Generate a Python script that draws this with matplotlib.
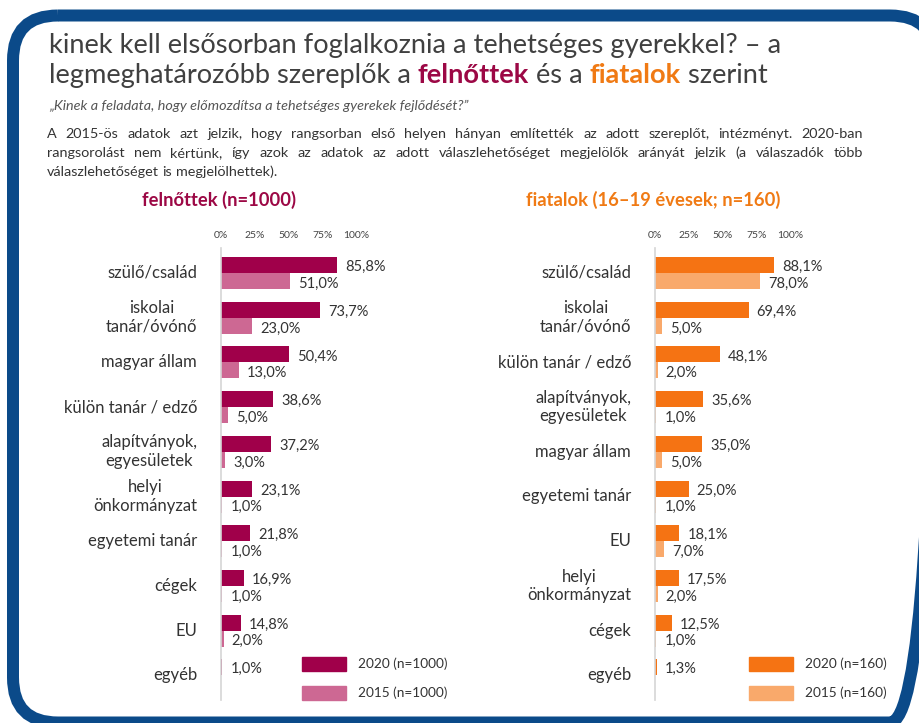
import matplotlib
matplotlib.use("Agg")
import matplotlib.pyplot as plt
from matplotlib.patches import FancyBboxPatch, Rectangle

W, H = 919, 723
DPI = 100

# felnőttek (n=1000)
adult_cats = ["szülő/család", "iskolai\ntanár/óvónő", "magyar állam", "külön tanár / edző",
              "alapítványok,\negyesületek", "helyi\nönkormányzat", "egyetemi tanár", "cégek",
              "EU", "egyéb"]
adult_2020 = [85.8, 73.7, 50.4, 38.6, 37.2, 23.1, 21.8, 16.9, 14.8, 1.0]
adult_2015 = [51.0, 23.0, 13.0, 5.0, 3.0, 1.0, 1.0, 1.0, 2.0, None]

# fiatalok (16-19 évesek; n=160)
youth_cats = ["szülő/család", "iskolai\ntanár/óvónő", "külön tanár / edző",
              "alapítványok,\negyesületek", "magyar állam", "egyetemi tanár", "EU",
              "helyi\nönkormányzat", "cégek", "egyéb"]
youth_2020 = [88.1, 69.4, 48.1, 35.6, 35.0, 25.0, 18.1, 17.5, 12.5, 1.3]
youth_2015 = [78.0, 5.0, 2.0, 1.0, 5.0, 1.0, 7.0, 2.0, 1.0, None]

ticks = [0, 25, 50, 75, 100]
tick_labels = ["0%", "25%", "50%", "75%", "100%"]

BLUE = "#0b4a89"
CRIMSON = "#a0004a"
PINK = "#cd6893"
ORANGE = "#f57313"
LORANGE = "#f9a96b"
TXT = "#333333"

plt.rcParams['font.family'] = ['Lato', 'DejaVu Sans']

fig = plt.figure(figsize=(W / DPI, H / DPI), dpi=DPI)
bg = fig.add_axes([0, 0, 1, 1])
bg.set_xlim(0, W)
bg.set_ylim(H, 0)
bg.axis('off')
renderer = fig.canvas.get_renderer()


def pt(p):
    return p * 0.72


def tw(s, size, **kw):
    t = bg.text(0, 0, s + "|", fontsize=size, **kw)
    a = t.get_window_extent(renderer).width
    t.remove()
    t = bg.text(0, 0, "|", fontsize=size, **kw)
    b = t.get_window_extent(renderer).width
    t.remove()
    return a - b


def text_run(x, y, pieces, size):
    for s, color, weight in pieces:
        bg.text(x, y, s, fontsize=size, color=color, fontweight=weight, va='baseline')
        x += tw(s, size, fontweight=weight)


def justified(x0, x1, y, line, size, justify=True):
    words = line.split(" ")
    widths = [tw(w, size) for w in words]
    if justify:
        gap = (x1 - x0 - sum(widths)) / (len(words) - 1)
    else:
        gap = tw(" ", size)
    x = x0
    for w, wd in zip(words, widths):
        bg.text(x, y, w, fontsize=size, color=TXT, va='baseline')
        x += wd + gap


# frame
frame = FancyBboxPatch((13, 15.5), 922, 707, boxstyle="round,pad=0,rounding_size=45",
                       fill=False, ec=BLUE, lw=pt(12), clip_on=False)
bg.add_patch(frame)

# title
title_size = 19.6
text_run(49, 53, [("kinek kell elsősorban foglalkoznia a tehetséges gyerekkel? – a", "#404040", "normal")],
         title_size)
text_run(49, 83, [("legmeghatározóbb szereplők a ", "#404040", "normal"),
                  ("felnőttek", "#9c0845", "bold"),
                  (" és a ", "#404040", "normal"),
                  ("fiatalok", "#f07a14", "bold"),
                  (" szerint", "#404040", "normal")], title_size)
bg.text(49, 110, "„Kinek a feladata, hogy előmozdítsa a tehetséges gyerekek fejlődését?”",
        fontsize=10.4, style='italic', color="#555555", va='baseline')

para = ["A 2015-ös adatok azt jelzik, hogy rangsorban első helyen hányan említették az adott szereplőt, intézményt. 2020-ban",
        "rangsorolást nem kértünk, így azok az adatok az adott válaszlehetőséget megjelölők arányát jelzik (a válaszadók több",
        "válaszlehetőséget is megjelölhettek)."]
justified(47, 863, 138, para[0], 10.4)
justified(47, 863, 157, para[1], 10.4)
justified(47, 863, 176, para[2], 10.4, justify=False)

bg.text(219, 200, "felnőttek (n=1000)", fontsize=13.2, fontweight='bold', color="#9c0845",
        ha='center', va='center')
bg.text(653, 200, "fiatalok (16–19 évesek; n=160)", fontsize=13.2, fontweight='bold', color="#f07a14",
        ha='center', va='center')


def panel(x0, cats, v20, v15, c20, c15):
    top, bottom, row0, step = 248, 700, 273, 44.7
    ax = fig.add_axes([x0 / W, 1 - bottom / H, 135 / W, (bottom - top) / H])
    ax.set_xlim(0, 100)
    ax.set_ylim((bottom - row0) / step, (top - row0) / step)
    hb = 16 / step
    for i, cat in enumerate(cats):
        ax.barh(i - hb / 2, v20[i], height=hb, color=c20)
        ax.annotate(f"{v20[i]:.1f}%".replace(".", ","), (v20[i], i - hb / 2), xytext=(pt(8), -1.5),
                    textcoords='offset points', va='center', fontsize=10.5, color=TXT)
        if v15[i] is not None:
            ax.barh(i + hb / 2, v15[i], height=hb, color=c15)
            ax.annotate(f"{v15[i]:.1f}%".replace(".", ","), (v15[i], i + hb / 2), xytext=(pt(8), -2),
                        textcoords='offset points', va='center', fontsize=10.5, color=TXT)
        ax.annotate(cat, (0, i), xytext=(-pt(24), 0), textcoords='offset points', ha='right',
                    va='center', multialignment='center', fontsize=12, color=TXT, linespacing=1.2)
    for s in ['top', 'right', 'bottom']:
        ax.spines[s].set_visible(False)
    ax.spines['left'].set_color('#d5d5d5')
    ax.spines['left'].set_linewidth(1.2)
    ax.xaxis.tick_top()
    ax.set_xticks(ticks)
    ax.set_xticklabels(tick_labels, fontsize=7.5, color="#444444")
    ax.tick_params(axis='x', length=0, pad=pt(8))
    ax.set_yticks([])
    ax.patch.set_alpha(0)
    return ax


panel(221, adult_cats, adult_2020, adult_2015, CRIMSON, PINK)
panel(655, youth_cats, youth_2020, youth_2015, ORANGE, LORANGE)

# legends
for x, tx, c20, c15, n in [(302, 358, CRIMSON, PINK, "1000"), (749, 805, ORANGE, LORANGE, "160")]:
    bg.add_patch(Rectangle((x, 657), 44, 14, color=c20))
    bg.add_patch(Rectangle((x, 686), 44, 14, color=c15))
    bg.text(tx, 664, f"2020 (n={n})", fontsize=9.8, color=TXT, va='center')
    bg.text(tx, 693, f"2015 (n={n})", fontsize=9.8, color=TXT, va='center')

fig.savefig("out.png", dpi=DPI)
